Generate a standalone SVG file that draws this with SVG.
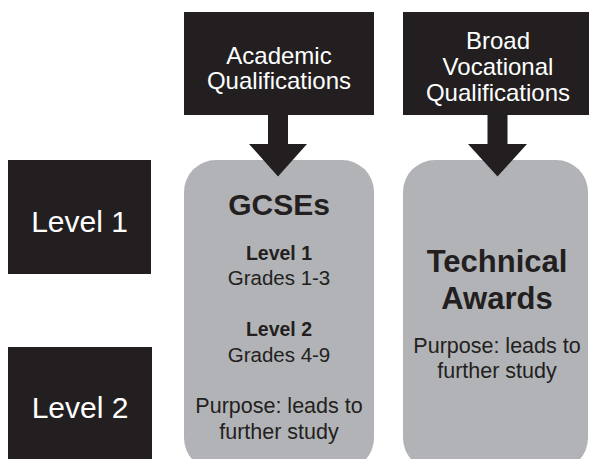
<svg xmlns="http://www.w3.org/2000/svg" width="589" height="459" viewBox="0 0 589 459">
<style>
.blk{fill:#231f20}
.grey{fill:#b1b3b6}
.wt{fill:#ffffff;font-family:"Liberation Sans",Arial,sans-serif;text-anchor:middle}
.dt{fill:#231f20;font-family:"Liberation Sans",Arial,sans-serif;text-anchor:middle}
.b{font-weight:bold}
</style>
<rect width="589" height="459" fill="#ffffff"/>
<g id="academic">
<rect class="blk" x="184" y="12" width="190" height="103"/>
<text class="wt" font-size="24" x="279" y="63.5">Academic</text>
<text class="wt" font-size="24" x="279" y="89">Qualifications</text>
</g>
<g id="vocational">
<rect class="blk" x="403" y="12" width="190" height="103"/>
<text class="wt" font-size="24" x="498" y="48.5">Broad</text>
<text class="wt" font-size="24" x="498" y="75">Vocational</text>
<text class="wt" font-size="24" x="498" y="101">Qualifications</text>
</g>
<g id="level1">
<rect class="blk" x="8" y="160" width="143" height="114"/>
<text class="wt" font-size="30" x="79.5" y="231.5">Level 1</text>
</g>
<g id="level2">
<rect class="blk" x="8" y="347" width="144" height="120"/>
<text class="wt" font-size="30" x="80" y="418">Level 2</text>
</g>
<g id="gcses">
<rect class="grey" x="184" y="160" width="190" height="310" rx="32" ry="32"/>
<text class="dt b" font-size="30" x="279" y="214.5">GCSEs</text>
<text class="dt b" font-size="19.5" x="279" y="260">Level 1</text>
<text class="dt" font-size="20.5" x="279" y="285">Grades 1-3</text>
<text class="dt b" font-size="19.5" x="279" y="336">Level 2</text>
<text class="dt" font-size="20.5" x="279" y="361.5">Grades 4-9</text>
<text class="dt" font-size="21.5" x="279" y="413">Purpose: leads to</text>
<text class="dt" font-size="21.5" x="279" y="438.5">further study</text>
</g>
<g id="technical">
<rect class="grey" x="403" y="160" width="185" height="310" rx="32" ry="32"/>
<text class="dt b" font-size="31" x="497" y="272">Technical</text>
<text class="dt b" font-size="31" x="497" y="309">Awards</text>
<text class="dt" font-size="21.5" x="497" y="353">Purpose: leads to</text>
<text class="dt" font-size="21.5" x="497" y="378">further study</text>
</g>
<g id="connectors">
<polygon class="blk" points="268,115 288,115 288,144 307,144 278,176.5 249,144 268,144"/>
<polygon class="blk" points="487.5,115 507.5,115 507.5,144 527,144 497.5,176.5 468,144 487.5,144"/>
</g>
</svg>
